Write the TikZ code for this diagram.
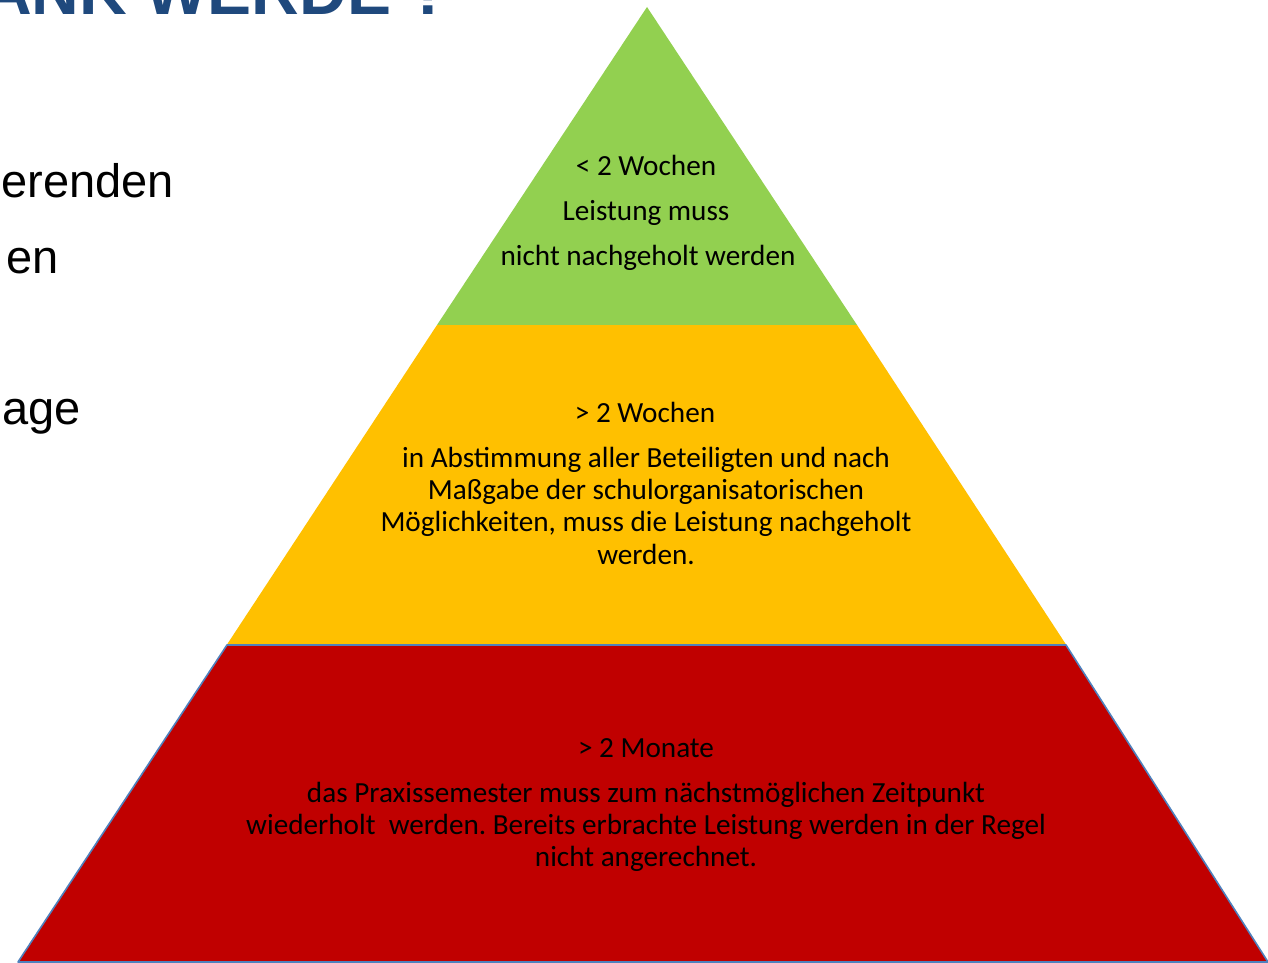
\documentclass[tikz,border=0pt]{standalone}
\usepackage{fontspec}
\setmainfont{Carlito}
\newfontfamily\leftfont{Liberation Sans}
\frenchspacing
\definecolor{pgreen}{HTML}{92D050}
\definecolor{pyellow}{HTML}{FFC000}
\definecolor{pred}{HTML}{C00000}
\definecolor{pblue}{HTML}{4F81BD}
\definecolor{headblue}{HTML}{1F497D}
\tikzset{
  pyrline/.style={anchor=base, inner sep=0pt, font=\fontsize{29.2}{32}\selectfont, text=black},
  sidetext/.style={anchor=base east, inner sep=0pt, font=\leftfont\fontsize{47}{56}\selectfont, text=black},
  headtext/.style={anchor=base east, inner sep=0pt, font=\leftfont\bfseries\fontsize{66}{72}\selectfont, text=headblue},
}
\begin{document}
\begin{tikzpicture}[x=1pt,y=-1pt]
\useasboundingbox (0,0) rectangle (1268,963);
\clip (0,0) rectangle (1268,963);
\fill[white] (0,0) rectangle (1268,963);
% heading and side text
\node[headtext] (head) at (450,15) {ANK WERDE ?};
\node[sidetext] (s1) at (174,197) {erenden};
\node[sidetext] (s2) at (59,273) {en};
\node[sidetext] (s3) at (81,424) {age};
% pyramid bands
\fill[pgreen] (647,7) -- (857,325) -- (437,325) -- cycle;
\fill[pyellow] (437,325) -- (857,325) -- (1066,644.5) -- (227,644.5) -- cycle;
\filldraw[fill=pred, draw=pblue, line width=1.6pt, line join=round] (227,645) -- (1066,645) -- (1268,962) -- (18,962) -- cycle;
% green text
\node[pyrline] (g1) at (646,175) {< 2 Wochen};
\node[pyrline] (g2) at (646,220) {Leistung muss};
\node[pyrline] (g3) at (648,265) {nicht nachgeholt werden};
% yellow text
\node[pyrline] (y0) at (645,422) {> 2 Wochen};
\node[pyrline] (y1) at (646,467) {in Abstimmung aller Beteiligten und nach};
\node[pyrline] (y2) at (646,499) {Maßgabe der schulorganisatorischen};
\node[pyrline] (y3) at (646,531) {Möglichkeiten, muss die Leistung nachgeholt};
\node[pyrline] (y4) at (646,564) {werden.};
% red text
\node[pyrline] (r0) at (646,757) {> 2 Monate};
\node[pyrline] (r1) at (646,802) {das Praxissemester muss zum nächstmöglichen Zeitpunkt};
\node[pyrline] (r2) at (646,834) {wiederholt\ \ werden. Bereits erbrachte Leistung werden in der Regel};
\node[pyrline] (r3) at (646,866) {nicht angerechnet.};
\end{tikzpicture}
\end{document}
